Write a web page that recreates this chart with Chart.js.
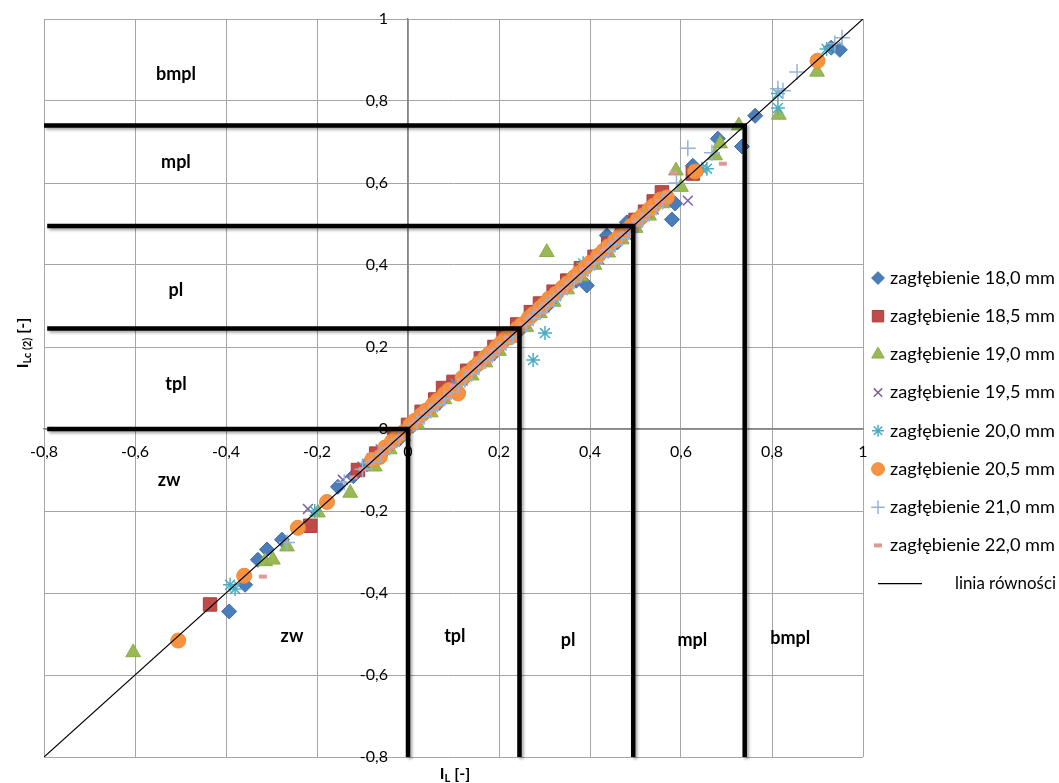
<!DOCTYPE html>
<html><head><meta charset="utf-8">
<script src="https://cdn.jsdelivr.net/npm/chart.js@4.4.1/dist/chart.umd.min.js"></script>
<style>html,body{margin:0;padding:0;background:#fff}</style>
</head><body>
<canvas id="c" width="1059" height="783"></canvas>
<script>
// ---------- data ----------
const seriesNames = ['zagłębienie 18,0 mm','zagłębienie 18,5 mm','zagłębienie 19,0 mm','zagłębienie 19,5 mm','zagłębienie 20,0 mm','zagłębienie 20,5 mm','zagłębienie 21,0 mm','zagłębienie 22,0 mm'];
const lineName = 'linia równości';
const tickValues = [-0.8,-0.6,-0.4,-0.2,0,0.2,0.4,0.6,0.8,1];

const s180 = [[-0.393,-0.445],[-0.358,-0.38],[-0.33,-0.319],[-0.31,-0.294],[-0.277,-0.27],[-0.154,-0.141],[-0.12,-0.115],[-0.085,-0.08],[-0.05,-0.052],[-0.02,-0.025],[0.01,0.008],[0.04,0.045],[0.07,0.066],[0.1,0.105],[0.13,0.128],[0.16,0.165],[0.19,0.186],[0.22,0.226],[0.25,0.246],[0.28,0.288],[0.31,0.305],[0.34,0.347],[0.37,0.362],[0.393,0.35],[0.41,0.418],[0.437,0.472],[0.46,0.455],[0.481,0.504],[0.51,0.508],[0.54,0.545],[0.58,0.511],[0.587,0.55],[0.626,0.642],[0.681,0.708],[0.734,0.689],[0.763,0.764],[0.949,0.925],[0.93,0.93]];
const s185 = [[-0.435,-0.428],[-0.215,-0.236],[-0.11,-0.1],[-0.07,-0.06],[-0.03,-0.022],[0.0,0.01],[0.03,0.042],[0.06,0.072],[0.077,0.1],[0.1,0.115],[0.13,0.142],[0.16,0.172],[0.19,0.2],[0.21,0.224],[0.24,0.255],[0.27,0.285],[0.29,0.306],[0.32,0.335],[0.35,0.362],[0.38,0.392],[0.41,0.42],[0.44,0.452],[0.47,0.48],[0.5,0.51],[0.521,0.53],[0.54,0.555],[0.558,0.577],[0.626,0.623]];
const s190 = [[-0.604,-0.545],[-0.314,-0.323],[-0.297,-0.319],[-0.266,-0.287],[-0.198,-0.204],[-0.127,-0.156],[-0.073,-0.092],[-0.04,-0.05],[-0.01,-0.018],[0.02,0.012],[0.05,0.04],[0.08,0.072],[0.11,0.1],[0.14,0.13],[0.17,0.162],[0.2,0.19],[0.23,0.222],[0.26,0.248],[0.29,0.282],[0.305,0.431],[0.32,0.31],[0.35,0.34],[0.38,0.372],[0.41,0.4],[0.44,0.43],[0.47,0.462],[0.5,0.49],[0.53,0.52],[0.56,0.55],[0.589,0.63],[0.6,0.59],[0.675,0.667],[0.686,0.696],[0.727,0.74],[0.815,0.766],[0.899,0.871]];
const s195 = [[-0.22,-0.195],[-0.143,-0.124],[-0.1,-0.092],[-0.08,-0.072],[-0.06,-0.05],[-0.045,-0.04],[-0.03,-0.028],[0.0,0.005],[0.015,0.02],[0.03,0.036],[0.045,0.048],[0.06,0.058],[0.075,0.078],[0.09,0.094],[0.105,0.108],[0.12,0.118],[0.135,0.138],[0.15,0.155],[0.165,0.168],[0.18,0.178],[0.195,0.198],[0.21,0.215],[0.225,0.228],[0.24,0.238],[0.255,0.258],[0.27,0.276],[0.285,0.288],[0.3,0.296],[0.315,0.318],[0.33,0.336],[0.345,0.348],[0.36,0.356],[0.375,0.378],[0.39,0.395],[0.405,0.408],[0.42,0.414],[0.435,0.438],[0.45,0.455],[0.465,0.468],[0.48,0.474],[0.495,0.498],[0.51,0.515],[0.525,0.528],[0.54,0.536],[0.615,0.557]];
const s200 = [[-0.391,-0.38],[-0.38,-0.39],[-0.205,-0.2],[-0.09,-0.085],[-0.07,-0.068],[-0.05,-0.045],[-0.03,-0.03],[-0.015,-0.012],[0.0,0.002],[0.015,0.02],[0.03,0.034],[0.045,0.05],[0.06,0.064],[0.075,0.08],[0.09,0.094],[0.105,0.11],[0.12,0.124],[0.135,0.14],[0.15,0.154],[0.165,0.17],[0.18,0.184],[0.195,0.2],[0.21,0.214],[0.225,0.23],[0.24,0.244],[0.255,0.26],[0.275,0.168],[0.301,0.234],[0.315,0.32],[0.33,0.335],[0.345,0.35],[0.36,0.365],[0.385,0.404],[0.4,0.405],[0.43,0.435],[0.445,0.45],[0.46,0.465],[0.475,0.48],[0.49,0.495],[0.505,0.51],[0.52,0.525],[0.535,0.54],[0.55,0.555],[0.646,0.635],[0.657,0.635],[0.813,0.818],[0.813,0.783],[0.92,0.927]];
const s205 = [[-0.505,-0.516],[-0.36,-0.358],[-0.242,-0.241],[-0.178,-0.178],[-0.079,-0.075],[-0.062,-0.068],[-0.05,-0.045],[-0.035,-0.03],[-0.025,-0.02],[-0.01,-0.008],[0.005,0.01],[0.015,0.02],[0.03,0.035],[0.04,0.045],[0.055,0.06],[0.065,0.07],[0.08,0.085],[0.09,0.095],[0.11,0.087],[0.12,0.125],[0.13,0.135],[0.145,0.15],[0.155,0.16],[0.17,0.175],[0.18,0.185],[0.195,0.2],[0.205,0.21],[0.215,0.222],[0.224,0.224],[0.24,0.245],[0.25,0.255],[0.265,0.27],[0.275,0.28],[0.29,0.295],[0.3,0.305],[0.31,0.318],[0.325,0.33],[0.34,0.345],[0.35,0.355],[0.365,0.37],[0.375,0.38],[0.39,0.395],[0.4,0.405],[0.418,0.423],[0.43,0.435],[0.44,0.445],[0.455,0.46],[0.465,0.47],[0.48,0.485],[0.49,0.495],[0.505,0.51],[0.515,0.52],[0.53,0.535],[0.54,0.545],[0.555,0.56],[0.569,0.565],[0.631,0.628],[0.9,0.898]];
const s210 = [[-0.266,-0.277],[-0.14,-0.13],[-0.1,-0.098],[-0.08,-0.082],[-0.06,-0.062],[-0.04,-0.045],[-0.02,-0.025],[0.0,-0.005],[0.02,0.015],[0.035,0.03],[0.05,0.045],[0.065,0.06],[0.08,0.075],[0.095,0.09],[0.11,0.106],[0.125,0.12],[0.14,0.135],[0.155,0.15],[0.17,0.166],[0.185,0.18],[0.2,0.195],[0.215,0.21],[0.23,0.225],[0.245,0.24],[0.26,0.255],[0.275,0.27],[0.29,0.285],[0.305,0.3],[0.32,0.315],[0.335,0.33],[0.35,0.345],[0.365,0.36],[0.38,0.375],[0.395,0.39],[0.41,0.405],[0.425,0.42],[0.44,0.435],[0.455,0.45],[0.47,0.465],[0.485,0.48],[0.5,0.495],[0.515,0.51],[0.53,0.525],[0.545,0.54],[0.56,0.555],[0.59,0.6],[0.615,0.685],[0.668,0.674],[0.813,0.83],[0.824,0.825],[0.855,0.871],[0.938,0.94],[0.954,0.954]];
const s220 = [[-0.319,-0.36],[-0.12,-0.118],[-0.1,-0.098],[-0.08,-0.077],[-0.06,-0.058],[-0.04,-0.042],[-0.02,-0.02],[0.0,-0.004],[0.018,0.02],[0.035,0.04],[0.052,0.055],[0.07,0.074],[0.085,0.088],[0.1,0.104],[0.118,0.12],[0.135,0.14],[0.152,0.155],[0.17,0.174],[0.185,0.19],[0.2,0.205],[0.218,0.222],[0.235,0.24],[0.252,0.255],[0.27,0.275],[0.285,0.29],[0.3,0.305],[0.318,0.322],[0.335,0.34],[0.352,0.356],[0.37,0.375],[0.385,0.39],[0.4,0.405],[0.418,0.422],[0.435,0.44],[0.452,0.456],[0.47,0.475],[0.485,0.49],[0.5,0.505],[0.518,0.522],[0.535,0.54],[0.552,0.556],[0.57,0.575],[0.584,0.625],[0.692,0.647]];
const equalityLine = [[-0.8,-0.8],[1,1]];
// class boundaries (horizontal limit y, vertical limit x)
const boundaries = [0, 0.245, 0.495, 0.74];
const zoneNamesLeft = ['bmpl','mpl','pl','tpl','zw'];
const zoneNamesBottom = ['zw','tpl','pl','mpl','bmpl'];

// ---------- styling ----------
const styles = [
  {ps:'rectRot', r:7.5, bg:'#4A7EBB', bc:'#3D6EA8', bw:1},
  {ps:'rect', r:9.5, bg:'#BE4B48', bc:'#A8403D', bw:1},
  {ps:'triangle', r:8.5, bg:'#98B954', bc:'#8BAA4C', bw:1},
  {ps:'crossRot', r:7, bg:'#7D60A0', bc:'#7D60A0', bw:1.5},
  {ps:'star', r:7, bg:'#4BACC6', bc:'#4BACC6', bw:1.5},
  {ps:'circle', r:7.5, bg:'#F69240', bc:'#EE8A38', bw:1},
  {ps:'cross', r:8, bg:'#95B3D7', bc:'#95B3D7', bw:1.5},
  {ps:'line', r:4, bg:'#DE9A99', bc:'#DE9A99', bw:4}
];
const allSeries = [s180,s185,s190,s195,s200,s205,s210,s220];
const toPts = a => a.map(p => ({x:p[0], y:p[1]}));
const fmt = v => String(Math.round(v*10)/10).replace('.', ',');
const FONT = 'Lato, "Liberation Sans", sans-serif';

const datasets = allSeries.map((s,i) => ({
  label: seriesNames[i], data: toPts(s), showLine:false,
  pointStyle: styles[i].ps, pointRadius: styles[i].r, pointBackgroundColor: styles[i].bg,
  pointBorderColor: styles[i].bc, pointBorderWidth: styles[i].bw, order: 10 - i
}));
datasets.push({label: lineName, data: toPts(equalityLine), showLine:true, pointRadius:0,
  borderColor:'#000', borderWidth:1.2, order:1});
boundaries.forEach((b, i) => {
  datasets.push({label:'_h'+i, thick:true, data:[{x:(i===3?-0.8:-0.793), y:b},{x:b, y:b},{x:b, y:-0.8}],
    showLine:true, pointRadius:0, borderColor:'#000', borderWidth:4.5, order:0, clip:false, borderJoinStyle:'miter'});
});

const shadowPlugin = {
  id:'shadow',
  beforeDraw(chart){
    // place y tick labels left of the centred axis
    const items = chart.scales.y.getLabelItems();
    items.forEach(it => { if (!it._shifted){ it.options.translation[0] -= 20; it._shifted = true; } });
  },
  beforeDatasetDraw(chart, args){
    const ds = chart.data.datasets[args.index];
    if (ds.thick){ const c = chart.ctx; c.save(); c.shadowColor='rgba(0,0,0,0.35)'; c.shadowBlur=3; c.shadowOffsetX=2; c.shadowOffsetY=2; }
  },
  afterDatasetDraw(chart, args){
    const ds = chart.data.datasets[args.index];
    if (ds.thick) chart.ctx.restore();
  }
};

const textPlugin = {
  id:'texts',
  afterDraw(chart){
    const c = chart.ctx, xs = chart.scales.x, ys = chart.scales.y;
    c.save();
    c.fillStyle = '#000';
    c.font = 'bold 18px ' + FONT;
    c.textAlign='center'; c.textBaseline='middle';
    const leftY = [0.866, 0.65, 0.338, 0.11, -0.124];
    zoneNamesLeft.forEach((t,i)=>{
      c.fillText(t, xs.getPixelForValue(i===4?-0.525:-0.51), ys.getPixelForValue(leftY[i]));
    });
    const botX = [-0.255, 0.103, 0.352, 0.625, 0.84];
    const botY = [-0.506, -0.506, -0.516, -0.515, -0.51];
    zoneNamesBottom.forEach((t,i)=>{
      c.fillText(t, xs.getPixelForValue(botX[i]), ys.getPixelForValue(botY[i]));
    });
    c.textAlign='left'; c.textBaseline='alphabetic';
    function sub(parts, x, y){
      let cx = x;
      parts.forEach(p=>{
        c.font = 'bold ' + p[1] + 'px ' + FONT;
        c.fillText(p[0], cx, y + p[2]);
        cx += c.measureText(p[0]).width;
      });
    }
    function width(parts){ let w=0; parts.forEach(p=>{c.font='bold '+p[1]+'px '+FONT; w+=c.measureText(p[0]).width;}); return w; }
    const xt = [['I',16,0],['L',11,3],[' [-]',16,0]];
    sub(xt, 455 - width(xt)/2, 779);
    const yt = [['I',16,0],['Lc (2)',11,3],[' [-]',16,0]];
    const wy = width(yt);
    c.translate(28, 343); c.rotate(-Math.PI/2);
    sub(yt, -wy/2, 0);
    c.restore();

    // legend
    c.save();
    const H = Chart.helpers;
    c.font = '15px ' + FONT;
    const tw = c.measureText(seriesNames[0]).width;
    const fs = 15 * 165 / tw;
    c.font = fs.toFixed(2) + 'px ' + FONT;
    c.textBaseline='middle'; c.textAlign='left';
    for (let i=0;i<8;i++){
      const y = 278 + i*38.2;
      const st = styles[i];
      c.fillStyle = st.bg; c.strokeStyle = st.bc; c.lineWidth = st.bw;
      H.drawPoint(c, {pointStyle: st.ps, radius: st.ps==='line'?4:st.r*0.85, rotation:0, borderWidth: st.bw}, 878, y);
      c.fillStyle = '#000';
      c.fillText(seriesNames[i], 890, y);
    }
    const yl = 278 + 8*38.2;
    c.strokeStyle='#000'; c.lineWidth=1.2;
    c.beginPath(); c.moveTo(878, yl); c.lineTo(922, yl); c.stroke();
    c.fillStyle='#000'; c.textAlign='right';
    c.font = (fs*0.93).toFixed(2) + 'px ' + FONT;
    c.fillText(lineName, 1056, yl);
    c.restore();
  }
};

const axisCommon = {
  type:'linear', min:-0.8, max:1,
  afterBuildTicks: a => { a.ticks = tickValues.map(v => ({value:v})); },
  ticks:{ callback: fmt, color:'#000', font:{family:FONT, size:16}, autoSkip:false, maxRotation:0 },
  grid:{ color:'#A6A6A6', lineWidth:1, tickLength:5, drawTicks:true },
  border:{ color:'#868686', width:1.5 }
};

new Chart(document.getElementById('c'), {
  type:'scatter',
  data:{ datasets },
  options:{
    responsive:false, animation:false, devicePixelRatio:1,
    layout:{ padding:{ left:44, top:19, right:196, bottom:26 } },
    plugins:{ legend:{display:false}, tooltip:{enabled:false} },
    scales:{
      x: Object.assign({}, axisCommon, { position:{y:0}, ticks:Object.assign({}, axisCommon.ticks, {padding:8}), afterFit: s => { s.height = 0; } }),
      y: Object.assign({}, axisCommon, { position:{x:0}, ticks:Object.assign({}, axisCommon.ticks, {padding:0}), afterFit: s => { s.width = 0; } })
    }
  },
  plugins:[shadowPlugin, textPlugin]
});
</script>
</body></html>
